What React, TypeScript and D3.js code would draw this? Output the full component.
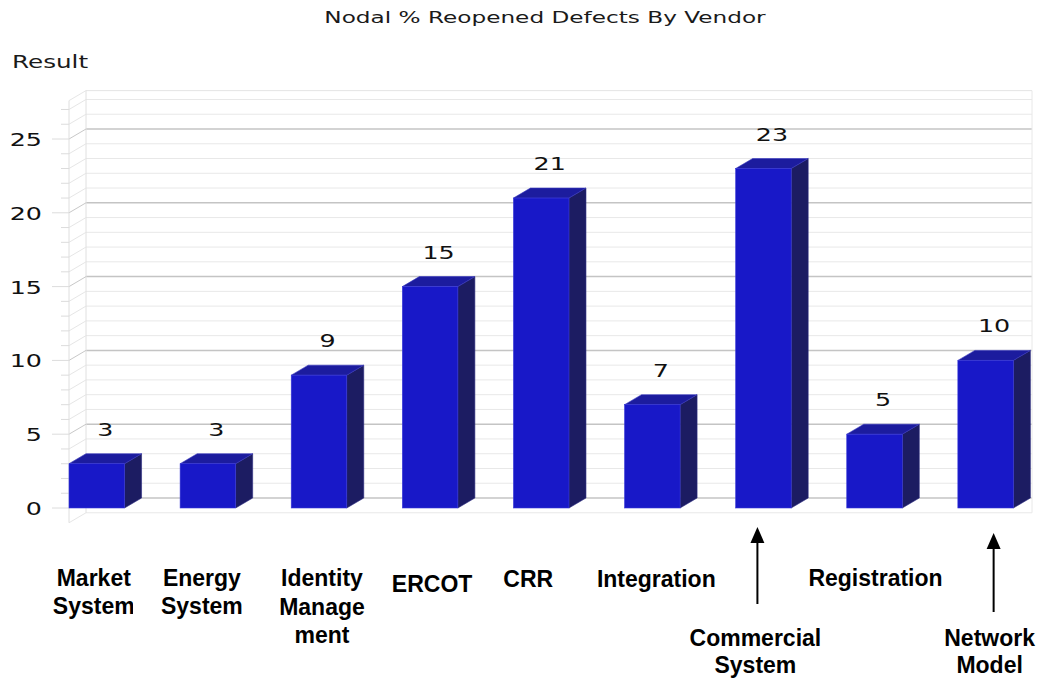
import React from "react";
import * as d3 from "d3";

const categories = [
  "Market System",
  "Energy System",
  "Identity Management",
  "ERCOT",
  "CRR",
  "Integration",
  "Commercial System",
  "Registration",
  "Network Model",
];
const values = [3, 3, 9, 15, 21, 7, 23, 5, 10];
const categoryLabelLines = [
  ["Market", "System"],
  ["Energy", "System"],
  ["Identity", "Manage", "ment"],
  ["ERCOT"],
  ["CRR"],
  ["Integration"],
  ["Commercial", "System"],
  ["Registration"],
  ["Network", "Model"],
];
const yTicks = [0, 5, 10, 15, 20, 25];
const arrowCategories = ["Commercial System", "Network Model"];
const titleText = "Nodal % Reopened Defects By Vendor";
const yAxisTitle = "Result";

// layout (not data)
const W = 1039;
const H = 679;
const DX = 17;
const DY = -10;
const SX = 1.45;
const labelDx = [-3, -6, 3, 2, -13, 4, -8, 1, 4];
const labelBaselines = [
  [586, 614],
  [586, 614],
  [586, 615, 643],
  [592],
  [587],
  [587],
  [646, 673],
  [586],
  [646, 673],
];
const arrowLayout = [
  { dx: -6, y1: 527, y2: 604 },
  { dx: 8, y1: 533, y2: 612 },
];

export default function App() {
  const x = d3
    .scaleBand<string>()
    .domain(categories)
    .range([69, 1013.4])
    .paddingInner(0.5)
    .paddingOuter(0);
  const y = d3.scaleLinear().domain([0, 25]).range([508, 139]);
  const axisX = 69;
  const wallRight = 1032;
  const vMin = -1;
  const vMax = 27.6;
  const units = d3.range(-1, 28);
  const bw = x.bandwidth();
  const chartFont = "'DejaVu Sans', Verdana, sans-serif";
  const labelFont = "'Liberation Sans', Arial, sans-serif";

  return (
    <svg
      width={W}
      height={H}
      style={{ position: "absolute", left: 0, top: 0, background: "#fff" }}
    >
      <defs>
        <clipPath id="clipMarket">
          <rect x={0} y={540} width={133} height={100} />
        </clipPath>
      </defs>
      <rect x={0} y={0} width={W} height={H} fill="#fff" />

      {/* title */}
      <text
        transform={`translate(545,23) scale(${SX},1)`}
        textAnchor="middle"
        fontFamily={chartFont}
        fontSize={16}
        fill="#1a1a1a"
      >
        {titleText}
      </text>
      <text
        transform={`translate(12,68) scale(${SX},1)`}
        fontFamily={chartFont}
        fontSize={17}
        fill="#1a1a1a"
      >
        {yAxisTitle}
      </text>

      {/* back wall grid */}
      <g>
        {units.map((v) => (
          <line
            key={"g" + v}
            x1={axisX + DX}
            x2={wallRight}
            y1={y(v) + DY}
            y2={y(v) + DY}
            stroke={v >= 0 && v % 5 === 0 ? "#c4c4c4" : "#e8e8e8"}
            strokeWidth={v >= 0 && v % 5 === 0 ? 1.5 : 1}
          />
        ))}
        <line
          x1={axisX + DX}
          x2={wallRight}
          y1={y(vMax) + DY}
          y2={y(vMax) + DY}
          stroke="#e4e4e4"
        />
        <line
          x1={axisX + DX}
          x2={axisX + DX}
          y1={y(vMax) + DY}
          y2={y(vMin) + DY}
          stroke="#e0e0e0"
        />
        <line
          x1={wallRight}
          x2={wallRight}
          y1={y(vMax) + DY}
          y2={y(vMin) + DY}
          stroke="#e8e8e8"
        />
        {/* side wall diagonals */}
        {units.map((v) => (
          <line
            key={"d" + v}
            x1={axisX}
            x2={axisX + DX}
            y1={y(v)}
            y2={y(v) + DY}
            stroke={v >= 0 && v % 5 === 0 ? "#c8c8c8" : "#e6e6e6"}
          />
        ))}
        <line
          x1={axisX}
          x2={axisX + DX}
          y1={y(vMax)}
          y2={y(vMax) + DY}
          stroke="#e6e6e6"
        />
        <line
          x1={axisX}
          x2={axisX}
          y1={y(vMax)}
          y2={y(vMin)}
          stroke="#dedede"
        />
        {/* tick marks */}
        {units
          .filter((v) => v >= 0)
          .map((v) => (
            <line
              key={"t" + v}
              x1={v % 5 === 0 ? axisX - 17 : axisX - 8}
              x2={axisX}
              y1={y(v)}
              y2={y(v)}
              stroke="#dcdcdc"
            />
          ))}
      </g>

      {/* y tick labels */}
      {yTicks.map((t) => (
        <text
          key={"yl" + t}
          transform={`translate(42,${y(t) + 7}) scale(${SX},1)`}
          textAnchor="end"
          fontFamily={chartFont}
          fontSize={17.5}
          fill="#111"
        >
          {t}
        </text>
      ))}

      {/* bars */}
      {categories.map((c, i) => {
        const x0 = x(c)!;
        const x1 = x0 + bw;
        const yt = y(values[i]);
        const yb = y(0);
        const side = [
          [x1, yt],
          [x1 + DX, yt + DY],
          [x1 + DX, yb + DY],
          [x1, yb],
        ];
        const top = [
          [x0, yt],
          [x0 + DX, yt + DY],
          [x1 + DX, yt + DY],
          [x1, yt],
        ];
        const pts = (p: number[][]) => p.map((q) => q.join(",")).join(" ");
        return (
          <g key={"b" + c}>
            <polygon points={pts(side)} fill="#1c1c62" stroke="#2a2a80" strokeWidth={0.6} />
            <polygon points={pts(top)} fill="#1c1c9e" stroke="#3838c0" strokeWidth={0.6} />
            <rect
              x={x0}
              y={yt}
              width={bw}
              height={yb - yt}
              fill="#1818c8"
              stroke="#3a3ad8"
              strokeWidth={0.6}
            />
            <text
              transform={`translate(${x0 + (bw + DX) / 2},${yt + DY - 18}) scale(${SX},1)`}
              textAnchor="middle"
              fontFamily={chartFont}
              fontSize={17.5}
              fill="#111"
            >
              {values[i]}
            </text>
          </g>
        );
      })}

      {/* category labels */}
      {categories.map((c, i) => {
        const cx = x(c)! + bw / 2 + labelDx[i];
        return (
          <text
            key={"cl" + c}
            textAnchor="middle"
            fontFamily={labelFont}
            fontWeight="bold"
            fontSize={23}
            fill="#000"
            clipPath={i === 0 ? "url(#clipMarket)" : undefined}
          >
            {categoryLabelLines[i].map((ln, j) => (
              <tspan key={j} x={cx} y={labelBaselines[i][j]}>
                {ln}
              </tspan>
            ))}
          </text>
        );
      })}

      {/* arrows */}
      {arrowCategories.map((c, k) => {
        const ax = x(c)! + bw / 2 + arrowLayout[k].dx;
        const { y1, y2 } = arrowLayout[k];
        return (
          <g key={"a" + c}>
            <line x1={ax} x2={ax} y1={y1 + 12} y2={y2} stroke="#000" strokeWidth={2} />
            <polygon
              points={`${ax},${y1} ${ax - 7},${y1 + 16} ${ax + 7},${y1 + 16}`}
              fill="#000"
            />
          </g>
        );
      })}
    </svg>
  );
}
